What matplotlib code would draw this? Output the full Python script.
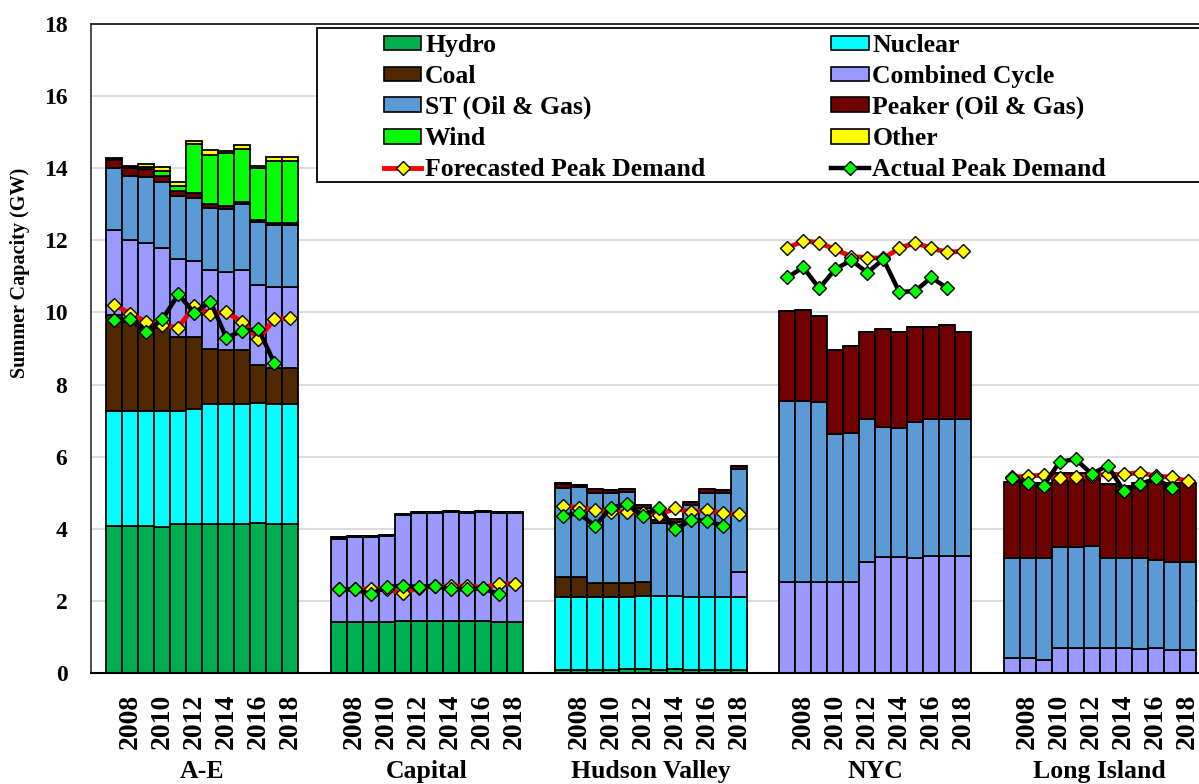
import matplotlib
matplotlib.use('Agg')
import matplotlib.pyplot as plt
from matplotlib.patches import Rectangle, Patch
from matplotlib.lines import Line2D
import matplotlib.transforms as mtransforms

plt.rcParams['font.family'] = ['Liberation Serif', 'DejaVu Serif']
plt.rcParams['font.weight'] = 'bold'

# ---------------- data ----------------
regions = ['A-E', 'Capital', 'Hudson Valley', 'NYC', 'Long Island']
years = [2007, 2008, 2009, 2010, 2011, 2012, 2013, 2014, 2015, 2016, 2017, 2018]
year_labels = ['2008', '2010', '2012', '2014', '2016', '2018']
ZERO = [0, 0, 0, 0, 0, 0, 0, 0, 0, 0, 0, 0]

# GW, one list per region (A-E, Capital, Hudson Valley, NYC, Long Island), years 2007-2018
hydro = [
    [4.09, 4.09, 4.09, 4.05, 4.12, 4.12, 4.12, 4.13, 4.12, 4.16, 4.12, 4.12],
    [1.42, 1.42, 1.42, 1.42, 1.45, 1.45, 1.45, 1.45, 1.45, 1.45, 1.42, 1.42],
    [0.07, 0.07, 0.07, 0.07, 0.10, 0.10, 0.07, 0.10, 0.07, 0.07, 0.07, 0.07],
    ZERO, ZERO]
nuclear = [
    [3.18, 3.18, 3.18, 3.22, 3.15, 3.19, 3.35, 3.34, 3.35, 3.34, 3.35, 3.35],
    ZERO,
    [2.03, 2.03, 2.03, 2.03, 2.00, 2.04, 2.07, 2.04, 2.03, 2.03, 2.03, 2.03],
    ZERO, ZERO]
coal = [
    [2.66, 2.47, 2.38, 2.29, 2.06, 2.00, 1.53, 1.49, 1.49, 1.04, 1.00, 1.00],
    ZERO,
    [0.57, 0.57, 0.41, 0.41, 0.41, 0.39, 0, 0, 0, 0, 0, 0],
    ZERO, ZERO]
combined_cycle = [
    [2.35, 2.27, 2.28, 2.22, 2.15, 2.12, 2.18, 2.17, 2.22, 2.22, 2.24, 2.24],
    [2.31, 2.36, 2.34, 2.39, 2.93, 2.98, 2.98, 3.01, 2.98, 3.01, 3.01, 3.01],
    [0, 0, 0, 0, 0, 0, 0, 0, 0, 0, 0, 0.69],
    [2.53, 2.53, 2.53, 2.53, 2.53, 3.07, 3.23, 3.23, 3.18, 3.25, 3.25, 3.25],
    [0.41, 0.41, 0.36, 0.70, 0.70, 0.70, 0.70, 0.70, 0.67, 0.70, 0.64, 0.64]]
steam = [
    [1.74, 1.78, 1.82, 1.83, 1.75, 1.75, 1.71, 1.74, 1.84, 1.76, 1.71, 1.71],
    ZERO,
    [2.45, 2.48, 2.49, 2.47, 2.50, 2.06, 2.03, 2.04, 2.56, 2.90, 2.90, 2.86],
    [5.01, 5.01, 4.98, 4.10, 4.14, 3.97, 3.60, 3.56, 3.79, 3.79, 3.79, 3.79],
    [2.77, 2.77, 2.82, 2.79, 2.79, 2.82, 2.48, 2.48, 2.51, 2.43, 2.45, 2.45]]
peaker = [
    [0.22, 0.22, 0.22, 0.18, 0.15, 0.12, 0.11, 0.09, 0.05, 0.04, 0.05, 0.05],
    [0.03, 0.03, 0.03, 0.03, 0.03, 0.03, 0.03, 0.03, 0.03, 0.03, 0.03, 0.03],
    [0.12, 0.06, 0.09, 0.09, 0.09, 0.07, 0.07, 0.09, 0.07, 0.09, 0.07, 0.09],
    [2.50, 2.53, 2.40, 2.33, 2.41, 2.41, 2.71, 2.66, 2.63, 2.56, 2.61, 2.41],
    [2.13, 2.10, 2.10, 2.05, 2.05, 2.03, 2.05, 2.02, 2.08, 2.16, 2.17, 2.17]]
wind = [
    [0.02, 0.02, 0.06, 0.14, 0.14, 1.37, 1.36, 1.45, 1.45, 1.44, 1.74, 1.74],
    ZERO,
    [0.02, 0, 0, 0, 0, 0, 0, 0, 0, 0, 0, 0],
    ZERO, ZERO]
other = [
    [0.03, 0.03, 0.10, 0.11, 0.09, 0.08, 0.14, 0.08, 0.12, 0.07, 0.09, 0.09],
    ZERO,
    [0.02, 0, 0, 0, 0, 0, 0, 0, 0, 0, 0, 0],
    ZERO, ZERO]

forecast_peak = [
    [10.22, 9.97, 9.74, 9.65, 9.58, 10.18, 9.97, 10.00, 9.74, 9.26, 9.82, 9.84],
    [2.32, 2.32, 2.33, 2.33, 2.21, 2.37, 2.40, 2.41, 2.41, 2.37, 2.47, 2.47],
    [4.63, 4.59, 4.52, 4.47, 4.47, 4.45, 4.38, 4.57, 4.46, 4.52, 4.43, 4.40],
    [11.78, 11.99, 11.93, 11.75, 11.55, 11.52, 11.50, 11.78, 11.93, 11.78, 11.67, 11.70],
    [5.43, 5.46, 5.49, 5.40, 5.43, 5.47, 5.51, 5.51, 5.56, 5.46, 5.43, 5.32]]
actual_peak = [
    [9.79, 9.81, 9.45, 9.81, 10.50, 9.99, 10.30, 9.30, 9.49, 9.54, 8.59],
    [2.32, 2.32, 2.19, 2.39, 2.42, 2.39, 2.42, 2.32, 2.32, 2.35, 2.19],
    [4.36, 4.43, 4.08, 4.59, 4.68, 4.36, 4.59, 3.98, 4.24, 4.22, 4.08],
    [10.97, 11.25, 10.67, 11.20, 11.45, 11.10, 11.48, 10.56, 10.60, 10.97, 10.67],
    [5.40, 5.28, 5.19, 5.86, 5.93, 5.52, 5.75, 5.06, 5.23, 5.40, 5.12]]

categories = ['Hydro', 'Nuclear', 'Coal', 'Combined Cycle', 'ST (Oil & Gas)',
              'Peaker (Oil & Gas)', 'Wind', 'Other']
series = [hydro, nuclear, coal, combined_cycle, steam, peaker, wind, other]
colors = ['#00B050', '#00FFFF', '#4F2800', '#9999FF', '#5B9BD5',
          '#6E0000', '#00FF00', '#FFFF00']

# ---------------- figure ----------------
W, H = 1199, 784
fig = plt.figure(figsize=(W / 100, H / 100), dpi=100)
ax = fig.add_axes([91 / W, 111 / H, (W - 91) / W, (673 - 24) / H])

SLOT = 14  # 12 years + 2 empty slots per region
for g in range(len(regions)):
    xs = [SLOT * g + i + 0.5 for i in range(len(years))]
    bottom = [0.0] * len(years)
    for ser, col in zip(series, colors):
        vals = ser[g]
        ax.bar(xs, vals, width=1.0, bottom=bottom, color=col,
               edgecolor='black', linewidth=1.3, zorder=2)
        bottom = [b + v for b, v in zip(bottom, vals)]
    fx = [SLOT * g + i + 0.5 for i in range(len(forecast_peak[g]))]
    ax.plot(fx, forecast_peak[g], color='#FF0000', lw=3.5, marker='D', ms=7,
            mfc='#FFFF00', mec='black', mew=1.0, zorder=4)
    axx = [SLOT * g + i + 0.5 for i in range(len(actual_peak[g]))]
    ax.plot(axx, actual_peak[g], color='black', lw=3.2, marker='D', ms=7,
            mfc='#00FF00', mec='black', mew=1.0, zorder=5)

ax.set_xlim(-0.95, 68.2)
ax.set_ylim(0, 18)
ax.set_yticks(range(0, 19, 2))
ax.yaxis.grid(True, color='#D9D9D9', lw=1.3, zorder=0)
ax.set_axisbelow(True)
ax.tick_params(axis='y', length=0, pad=17, labelsize=17)
for lab in ax.get_yticklabels():
    lab.set_fontweight('bold')

tick_pos = []
tick_lab = []
for g in range(len(regions)):
    for i, y in enumerate(years):
        if str(y) in year_labels:
            tick_pos.append(SLOT * g + i + 0.5)
            tick_lab.append(str(y))
ax.set_xticks(tick_pos)
ax.set_xticklabels(tick_lab, rotation=90, fontsize=20, fontweight='bold')
ax.tick_params(axis='x', length=0, pad=15)

ax.spines['right'].set_visible(False)
ax.spines['left'].set_color('#404040')
ax.spines['top'].set_color('#202020')
ax.spines['left'].set_linewidth(1.3)
ax.spines['top'].set_linewidth(1.3)
ax.spines['bottom'].set_color('black')
ax.spines['bottom'].set_linewidth(1.5)

trans = mtransforms.blended_transform_factory(ax.transData, fig.transFigure)
for g, name in enumerate(regions):
    ax.text(SLOT * g + 6, 1 - 783 / H, name, transform=trans, ha='center',
            va='bottom', fontsize=18.5, fontweight='bold', clip_on=False)

fig.text(20 / W, 1 - 273 / H, 'Summer Capacity (GW)', rotation=90,
         ha='center', va='center', fontsize=14.5, fontweight='bold')

# legend frame
frame = Rectangle((317 / W, 1 - 182 / H), (W + 20 - 317) / W, (182 - 28) / H,
                  transform=fig.transFigure, facecolor='white', edgecolor='black',
                  linewidth=1.3, zorder=1)
fig.patches.append(frame)

ph = [Patch(facecolor=c, edgecolor='black', linewidth=1.2) for c in colors]
fl = Line2D([], [], color='#FF0000', lw=3.5, marker='D', ms=7, mfc='#FFFF00',
            mec='black', mew=1.0)
al = Line2D([], [], color='black', lw=3.2, marker='D', ms=7, mfc='#00FF00',
            mec='black', mew=1.0)
handles = [ph[0], ph[2], ph[4], ph[6], fl, ph[1], ph[3], ph[5], ph[7], al]
labels = [categories[0], categories[2], categories[4], categories[6],
          'Forecasted Peak Demand', categories[1], categories[3], categories[5],
          categories[7], 'Actual Peak Demand']
leg = fig.legend(handles, labels, ncol=2, loc='upper left',
                 bbox_to_anchor=(384 / W, 1 - 34 / H), bbox_transform=fig.transFigure,
                 frameon=False, borderpad=0, borderaxespad=0, fontsize=18.5,
                 handlelength=1.45, handleheight=0.5, handletextpad=0.15,
                 labelspacing=0.31, columnspacing=4.9, numpoints=1)
leg.set_zorder(3)
for t in leg.get_texts():
    t.set_fontweight('bold')

fig.savefig('out.png', dpi=100)
